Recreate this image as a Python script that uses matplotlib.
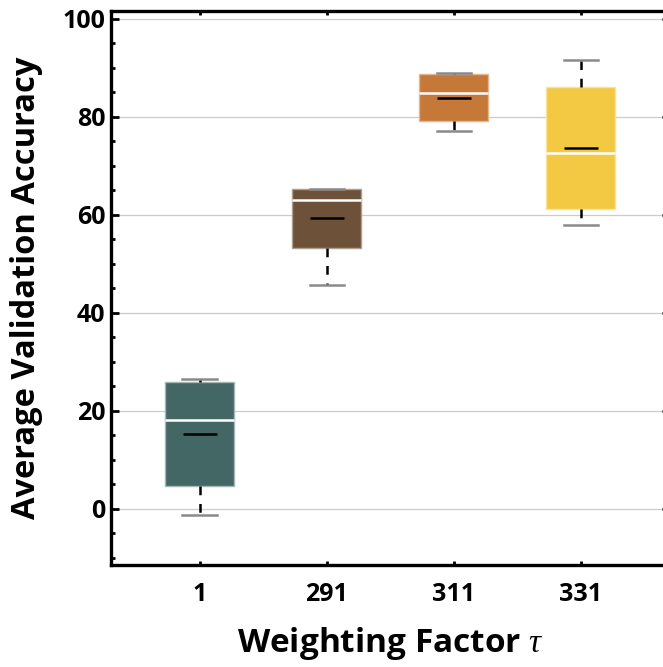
import matplotlib.pyplot as plt
from matplotlib.ticker import MultipleLocator

# box statistics
labels = ['1', '291', '311', '331']
q1 = [4.7, 53.3, 79.2, 61.2]
med = [18.0, 63.1, 84.9, 72.7]
q3 = [25.9, 65.3, 88.8, 86.1]
lo = [-1.2, 45.7, 77.1, 58.0]
hi = [26.5, 65.3, 89.0, 91.6]
means = [15.3, 59.4, 83.9, 73.7]
colors = ['#436764', '#6E5139', '#C57838', '#F3C944']
edges = ['#a7b7b6', '#b09e90', '#e2b68f', '#f9e29c']

plt.rcParams['font.family'] = ['Open Sans', 'DejaVu Sans']
plt.rcParams['font.weight'] = 'bold'
plt.rcParams['mathtext.fontset'] = 'custom'
# thin italic tau, like the original
for key in ['it', 'bf', 'bfit']:
    plt.rcParams['mathtext.' + key] = 'Liberation Serif:italic:normal'

fig = plt.figure(figsize=(6.63, 6.67), dpi=100)
ax = fig.add_axes([0.167, 0.153, 0.843, 0.8305])

stats = []
for i in range(len(labels)):
    stats.append({'q1': q1[i], 'med': med[i], 'q3': q3[i],
                  'whislo': lo[i], 'whishi': hi[i], 'mean': means[i],
                  'label': labels[i]})

bp = ax.bxp(stats, positions=range(len(labels)), widths=0.54,
            patch_artist=True, showmeans=True, showfliers=False,
            medianprops=dict(color='white', linewidth=1.8),
            whiskerprops=dict(color='black', linewidth=1.8, linestyle=(0, (3.5, 3.5))),
            capprops=dict(color='#8a8a8a', linewidth=1.8),
            capwidths=0.27,
            meanprops=dict(marker='_', markersize=24, markeredgewidth=1.8,
                           markeredgecolor='black'))
for patch, c, e in zip(bp['boxes'], colors, edges):
    patch.set_facecolor(c)
    patch.set_edgecolor(e)
    patch.set_linewidth(1.0)

ax.set_xlim(-0.7, 3.7)
ax.set_ylim(-11.5, 101.6)
ax.set_yticks([0, 20, 40, 60, 80, 100])
ax.yaxis.set_minor_locator(MultipleLocator(5))
ax.set_axisbelow(True)
ax.grid(axis='y', color='#cccccc', linewidth=0.9)

for s in ax.spines.values():
    s.set_linewidth(2.4)

ax.tick_params(axis='y', which='major', direction='in', length=6, width=2,
               labelsize=18, right=True, pad=4)
ax.tick_params(axis='y', which='minor', direction='in', length=3, width=2, right=True)
ax.tick_params(axis='x', which='major', direction='in', length=3, width=2,
               labelsize=18, top=True, pad=12)

ax.set_xlabel(r'Weighting Factor $\tau$', fontsize=24, fontweight='bold', labelpad=13)
ax.set_ylabel('Average Validation Accuracy', fontsize=23.5, fontweight='bold', labelpad=14)

fig.savefig('out.png', dpi=100)
